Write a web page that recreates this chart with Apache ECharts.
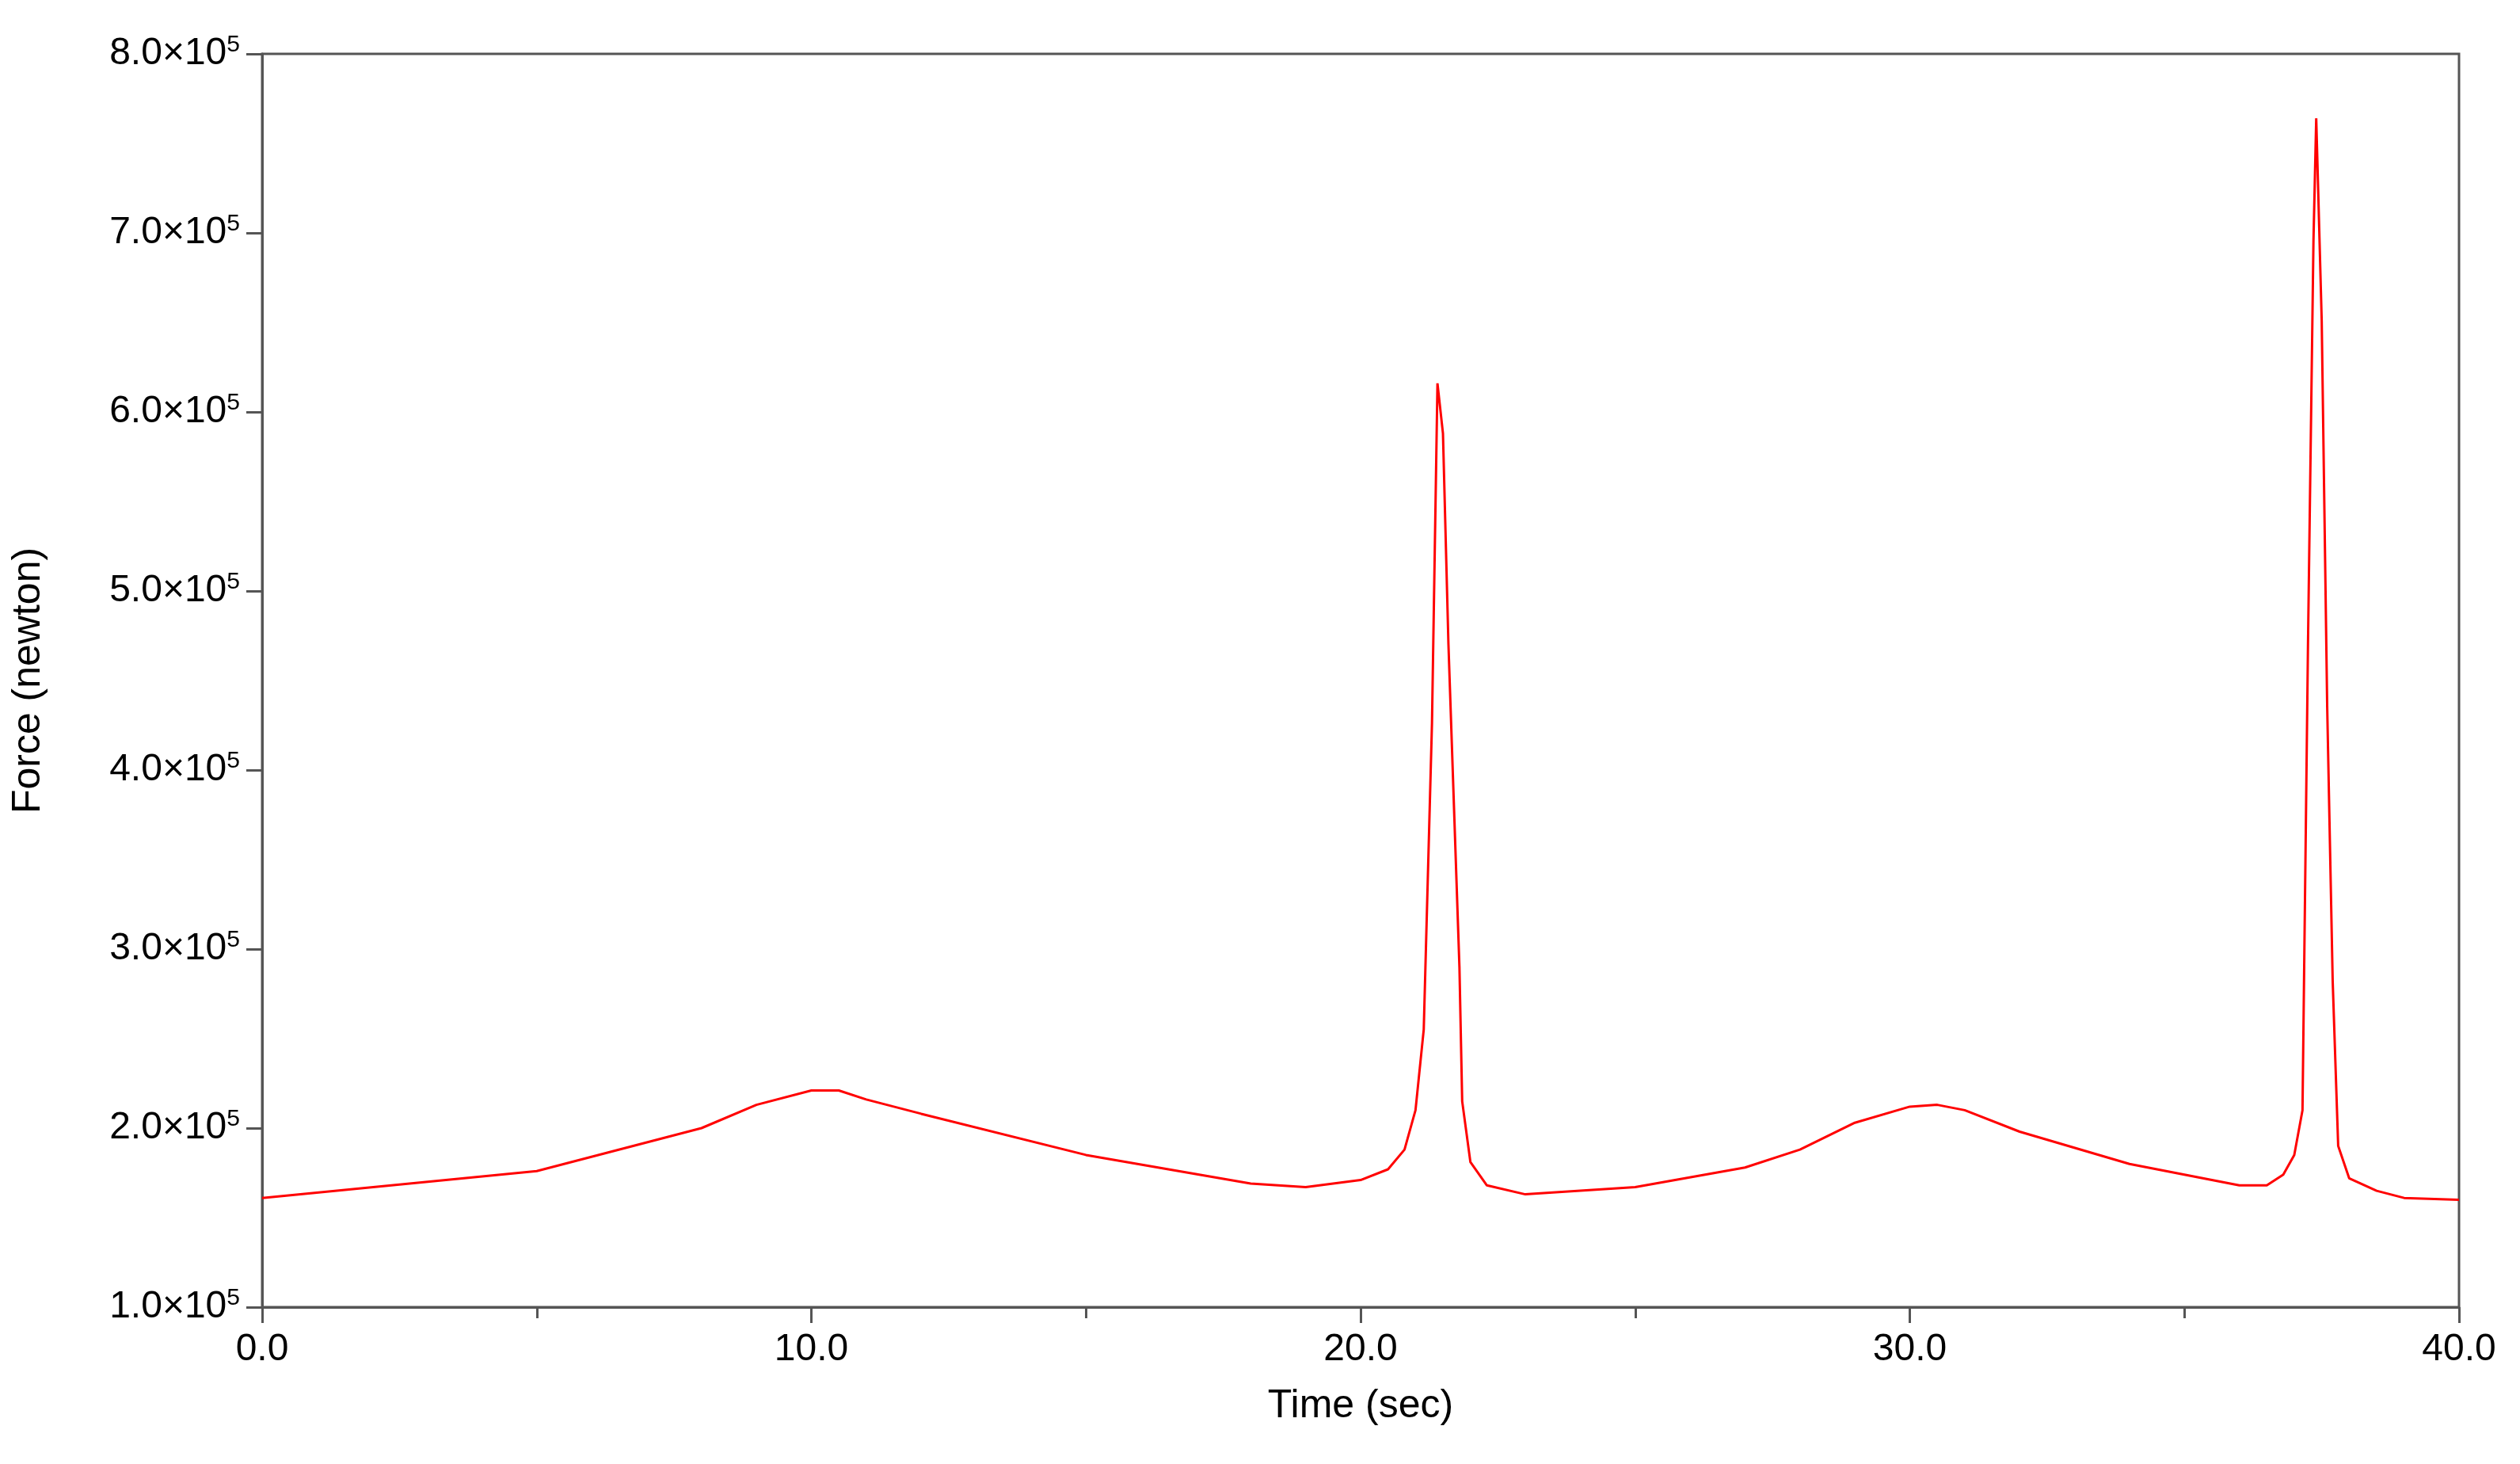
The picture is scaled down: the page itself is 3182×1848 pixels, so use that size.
<!DOCTYPE html>
<html><head><meta charset="utf-8">
<script src="https://cdn.jsdelivr.net/npm/echarts@6/dist/echarts.min.js"></script>
<style>html,body{margin:0;background:#fff}#c{width:3182px;height:1848px}</style>
</head><body><div id="c"></div>
<script>
const time = [0,5,8,9,10,10.5,11,12,15,18,19,20,20.5,20.8,21.0,21.15,21.3,21.4,21.5,21.6,21.8,21.85,22.0,22.3,23,25,27,28,29,30,30.5,31,32,34,36,36.5,36.8,37.0,37.15,37.25,37.35,37.4,37.5,37.6,37.7,37.8,38,38.5,39,40];
const force = [1.61,1.76,2.0,2.13,2.21,2.21,2.16,2.08,1.85,1.69,1.67,1.71,1.77,1.88,2.1,2.55,4.26,6.16,5.88,4.7,2.9,2.15,1.81,1.68,1.63,1.67,1.78,1.88,2.03,2.12,2.13,2.10,1.98,1.80,1.68,1.68,1.74,1.85,2.10,4.7,6.96,7.64,6.51,4.35,2.82,1.90,1.72,1.65,1.61,1.60].map(v=>v*1e5);
const xName = 'Time (sec)', yName = 'Force (newton)';
const chart = echarts.init(document.getElementById('c'));
const axLine = {lineStyle:{color:'#555',width:3}};
const font = 'Liberation Sans, Arial, sans-serif';
chart.setOption({
  animation:false,
  grid:{left:331,right:77,top:68,bottom:198,show:true,borderColor:'#555',borderWidth:3},
  xAxis:{type:'value',min:0,max:40,interval:10,name:xName,nameLocation:'middle',nameGap:100,
    nameTextStyle:{fontSize:50,color:'#000',fontFamily:font},
    axisLine:axLine,axisTick:{length:20,lineStyle:{color:'#555',width:3}},
    minorTick:{show:true,splitNumber:2,length:14,lineStyle:{color:'#555',width:3}},
    splitLine:{show:false},
    axisLabel:{fontSize:48,color:'#000',fontFamily:font,margin:30,formatter:v=>v.toFixed(1)}},
  yAxis:{type:'value',min:100000,max:800000,interval:100000,name:yName,nameLocation:'middle',nameGap:270,
    nameTextStyle:{fontSize:50,color:'#000',fontFamily:font},
    axisLine:axLine,axisTick:{length:20,lineStyle:{color:'#555',width:3}},splitLine:{show:false},
    axisLabel:{fontSize:48,color:'#000',fontFamily:font,margin:28,
      formatter:v=>'{a|'+(v/1e5).toFixed(1)+'×10}{s|5}',
      rich:{a:{fontSize:48,color:'#000',fontFamily:font},s:{fontSize:30,color:'#000',fontFamily:font,verticalAlign:'top',padding:[0,0,22,0]}}}},
  series:[{type:'line',data:time.map((t,i)=>[t,force[i]]),showSymbol:false,lineStyle:{color:'#ff0000',width:3}}]
});
</script></body></html>
